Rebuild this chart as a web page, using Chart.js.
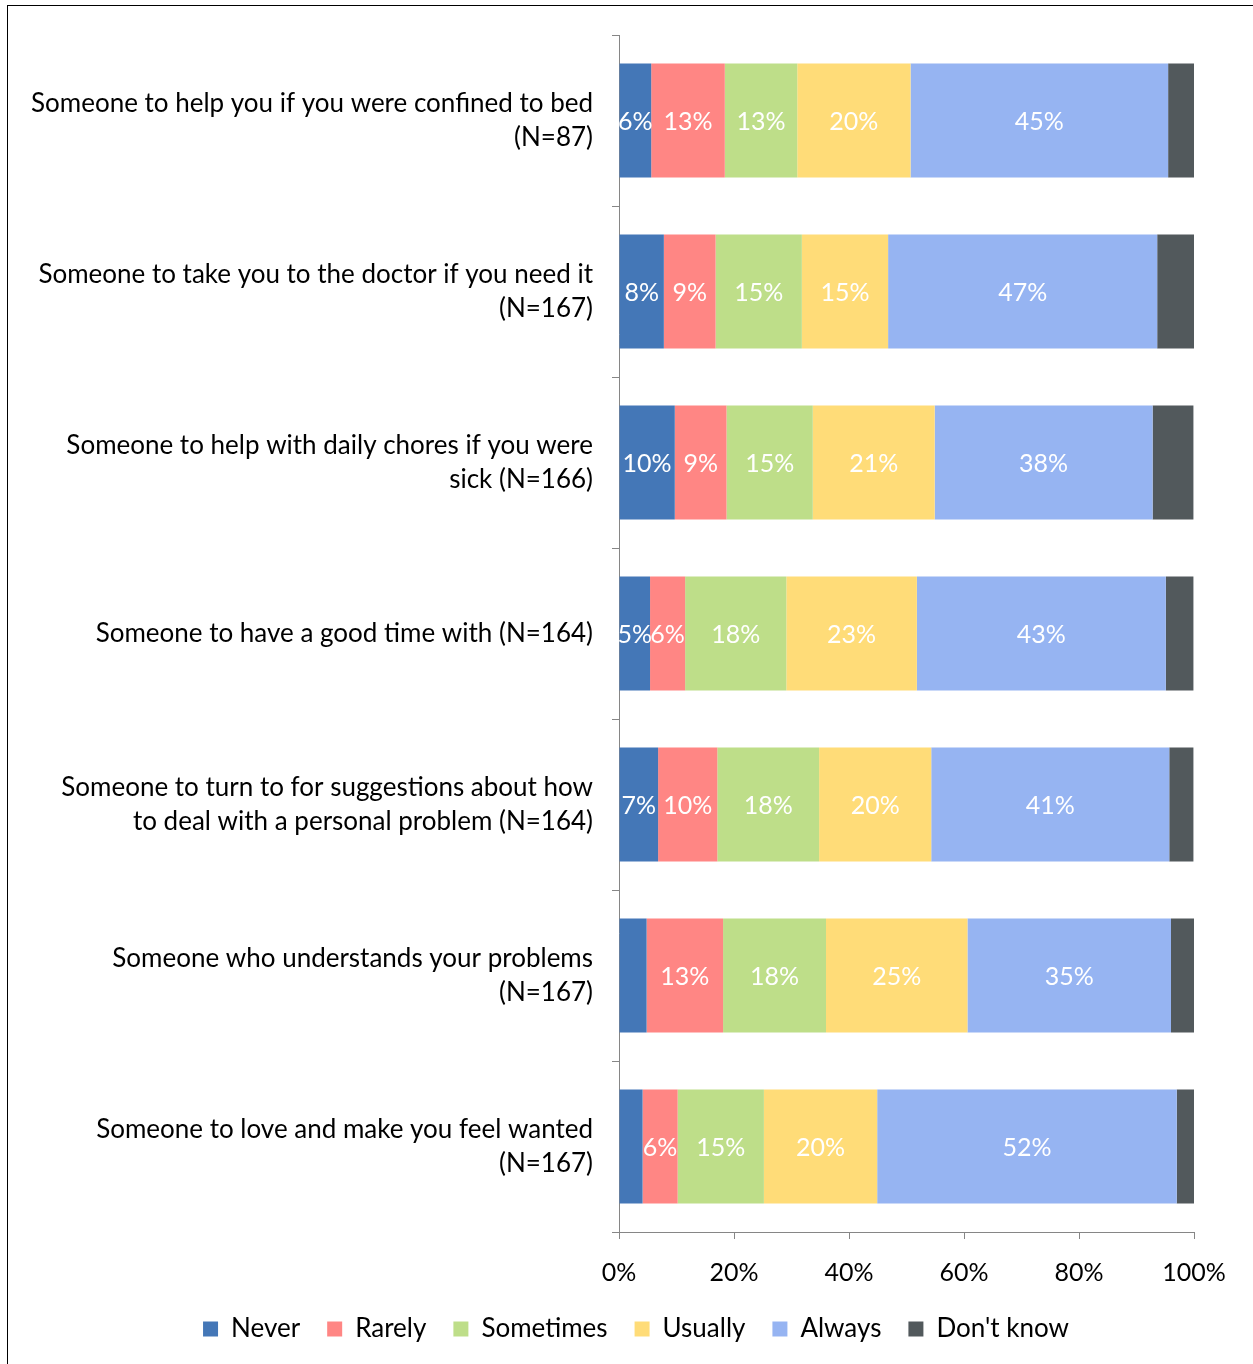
<!DOCTYPE html>
<html>
<head>
<meta charset="utf-8">
<script src="https://cdn.jsdelivr.net/npm/chart.js@4.4.1/dist/chart.umd.min.js"></script>
<style>
    html, body { margin: 0; padding: 0; background: #fff; }
    #frame { position: absolute; left: 7px; top: 5px; width: 1300px; height: 1400px; border: 1px solid #000; box-sizing: border-box; }
    #wrap { position: absolute; left: 0; top: 0; width: 1253px; height: 1364px; }
</style>
</head>
<body>
<div id="frame"></div>
<div id="wrap"><canvas id="supportChart"></canvas></div>
<script>
// categories (top to bottom)
const categories = [
    ["Someone to help you if you were confined to bed", "(N=87)"],
    ["Someone to take you to the doctor if you need it", "(N=167)"],
    ["Someone to help with daily chores if you were", "sick (N=166)"],
    "Someone to have a good time with (N=164)",
    ["Someone to turn to for suggestions about how", "to deal with a personal problem (N=164)"],
    ["Someone who understands your problems", "(N=167)"],
    ["Someone to love and make you feel wanted", "(N=167)"]
];

// percentages
const never     = [5.6, 7.8, 9.7, 5.4, 6.8, 4.8, 4.1];
const rarely    = [12.8, 9.0, 9.0, 6.1, 10.3, 13.3, 6.1];
const sometimes = [12.6, 15.0, 15.0, 17.6, 17.7, 17.9, 15.0];
const usually   = [19.7, 15.0, 21.2, 22.7, 19.5, 24.6, 19.7];
const always    = [44.8, 46.8, 37.9, 43.3, 41.4, 35.4, 52.1];
const dontKnow  = [4.6, 6.4, 7.1, 4.8, 4.2, 4.1, 3.0];

const xTicks = [0, 20, 40, 60, 80, 100];

const FONT = "Lato";
const AXIS_GRAY = "#868686";

// white % labels inside the segments
const barLabels = {
    id: "barLabels",
    afterDatasetsDraw(chart) {
        const ctx = chart.ctx;
        ctx.save();
        ctx.font = `25px ${FONT}`;
        ctx.fillStyle = "#fff";
        ctx.textAlign = "center";
        ctx.textBaseline = "middle";
        chart.data.datasets.forEach((ds, i) => {
            if (ds.noLabels) return;
            chart.getDatasetMeta(i).data.forEach((bar, j) => {
                const v = ds.data[j];
                if (v < 5) return;
                const p = bar.getProps(["x", "y", "base"], true);
                ctx.fillText(Math.round(v) + "%", (p.x + p.base) / 2, p.y + 1);
            });
        });
        ctx.restore();
    }
};

// legend sits a bit right of the canvas centre in the original
const legendShift = {
    id: "legendShift",
    afterLayout(chart) {
        if (!chart.legend) return;
        chart.legend.left += 34;
        chart.legend.right += 34;
    }
};

function makeSet(label, data, color, noLabels) {
    return {
        label: label,
        data: data,
        backgroundColor: color,
        borderWidth: 0,
        categoryPercentage: 1,
        barPercentage: 0.667,
        noLabels: !!noLabels
    };
}

new Chart(document.getElementById("supportChart"), {
    type: "bar",
    data: {
        labels: categories,
        datasets: [
            makeSet("Never", never, "#4477B7"),
            makeSet("Rarely", rarely, "#FF8684"),
            makeSet("Sometimes", sometimes, "#BEDE89"),
            makeSet("Usually", usually, "#FFDC78"),
            makeSet("Always", always, "#96B4F2"),
            makeSet("Don't know", dontKnow, "#52595C", true)
        ]
    },
    options: {
        indexAxis: "y",
        responsive: true,
        maintainAspectRatio: false,
        animation: false,
        layout: { padding: { left: 10, right: 59, top: 35, bottom: 12 } },
        scales: {
            x: {
                stacked: true,
                min: 0,
                max: 100,
                afterBuildTicks: s => { s.ticks = xTicks.map(v => ({ value: v })); },
                grid: { drawOnChartArea: false, tickLength: 7, color: AXIS_GRAY },
                border: { color: AXIS_GRAY },
                ticks: {
                    color: "#000",
                    font: { family: FONT, size: 25 },
                    padding: 19,
                    callback: v => v + "%"
                },
                afterFit: s => { s.height = 57; }
            },
            y: {
                stacked: true,
                offset: true,
                grid: { drawOnChartArea: false, offset: true, tickLength: 7, color: AXIS_GRAY },
                border: { color: AXIS_GRAY },
                ticks: {
                    color: "#000",
                    font: { family: FONT, size: 26, lineHeight: 1.3 },
                    padding: 19
                },
                afterFit: s => { s.width = 609; s.paddingTop = 0; s.paddingBottom = 0; }
            }
        },
        plugins: {
            legend: {
                position: "bottom",
                labels: {
                    color: "#000",
                    font: { family: FONT, size: 26 },
                    boxWidth: 15,
                    boxHeight: 15,
                    padding: 27
                }
            },
            tooltip: { enabled: false }
        }
    },
    plugins: [barLabels, legendShift]
});
</script>
</body>
</html>
